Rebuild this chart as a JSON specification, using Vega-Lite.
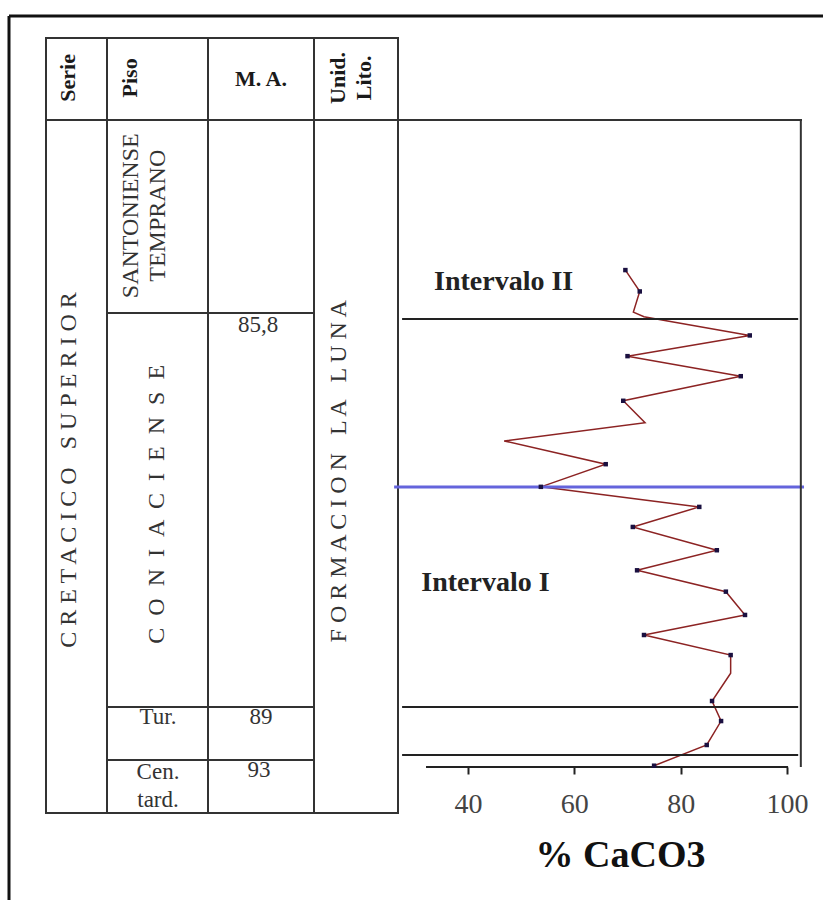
{
  "$schema": "https://vega.github.io/schema/vega-lite/v6.json",
  "padding": {"left": 7, "top": 14, "right": 0, "bottom": 0},
  "autosize": {"type": "pad"},
  "background": "white",
  "spacing": 0,
  "bounds": "flush",
  "config": {"view": {"stroke": null}, "font": "Liberation Serif"},
  "datasets": {
    "celdas": [
      {"columna": "Serie", "x0": 0, "x1": 61, "base": 100, "techo": 112.67},
      {"columna": "Piso", "x0": 61, "x1": 162, "base": 100, "techo": 112.67},
      {"columna": "M. A.", "x0": 162, "x1": 268, "base": 100, "techo": 112.67},
      {"columna": "Unid. Lito.", "x0": 268, "x1": 352, "base": 100, "techo": 112.67},
      {"columna": "Serie", "x0": 0, "x1": 61, "base": -7.11, "techo": 100},
      {"columna": "Piso", "x0": 61, "x1": 162, "base": 70.17, "techo": 100},
      {"columna": "Piso", "x0": 61, "x1": 162, "base": 9.27, "techo": 70.17},
      {"columna": "Piso", "x0": 61, "x1": 162, "base": 1.08, "techo": 9.27},
      {"columna": "Piso", "x0": 61, "x1": 162, "base": -7.11, "techo": 1.08},
      {"columna": "M. A.", "x0": 162, "x1": 268, "base": 70.17, "techo": 100},
      {"columna": "M. A.", "x0": 162, "x1": 268, "base": 9.27, "techo": 70.17},
      {"columna": "M. A.", "x0": 162, "x1": 268, "base": 1.08, "techo": 9.27},
      {"columna": "M. A.", "x0": 162, "x1": 268, "base": -7.11, "techo": 1.08},
      {"columna": "Unid. Lito.", "x0": 268, "x1": 352, "base": -7.11, "techo": 100}
    ],
    "rotulos_v": [
      {"texto": "Serie", "xc": 22, "nivel": 106.5, "clase": "encabezado"},
      {"texto": "Piso", "xc": 84, "nivel": 106.5, "clase": "encabezado"},
      {"texto": "Unid.|Lito.", "xc": 292, "nivel": 106.5, "clase": "encabezado"},
      {"texto": "C R E T A C I C O \u00a0 S U P E R I O R", "xc": 23, "nivel": 45.9, "clase": "cuerpo"},
      {"texto": "SANTONIENSE|TEMPRANO", "xc": 85, "nivel": 85.2, "clase": "cuerpo"},
      {"texto": "C \u00a0O \u00a0N \u00a0I \u00a0A \u00a0C \u00a0I \u00a0E \u00a0N \u00a0S \u00a0E", "xc": 111, "nivel": 40.6, "clase": "cuerpo"},
      {"texto": "F O R M A C I O N \u00a0 L A \u00a0 L U N A", "xc": 293, "nivel": 45.7, "clase": "cuerpo"}
    ],
    "rotulos_h": [
      {"texto": "M. A.", "xc": 215, "nivel": 106.3, "clase": "encabezado"},
      {"texto": "85,8", "xc": 212, "nivel": 68.3, "clase": "cuerpo"},
      {"texto": "Tur.", "xc": 112, "nivel": 7.7, "clase": "cuerpo"},
      {"texto": "89", "xc": 215, "nivel": 7.7, "clase": "cuerpo"},
      {"texto": "Cen.|tard.", "xc": 112, "nivel": -0.8, "clase": "cuerpo"},
      {"texto": "93", "xc": 213, "nivel": -0.5, "clase": "cuerpo"}
    ],
    "caco3": [
      {"nivel": 76.8, "caco3": 69.6, "muestra": true},
      {"nivel": 73.5, "caco3": 72.3, "muestra": true},
      {"nivel": 70.3, "caco3": 71.1, "muestra": false},
      {"nivel": 69.6, "caco3": 73.1, "muestra": false},
      {"nivel": 68.9, "caco3": 77.8, "muestra": false},
      {"nivel": 66.7, "caco3": 93.0, "muestra": true},
      {"nivel": 63.5, "caco3": 70.0, "muestra": true},
      {"nivel": 60.4, "caco3": 91.3, "muestra": true},
      {"nivel": 56.6, "caco3": 69.2, "muestra": true},
      {"nivel": 53.2, "caco3": 73.3, "muestra": false},
      {"nivel": 50.4, "caco3": 46.8, "muestra": false},
      {"nivel": 46.8, "caco3": 65.9, "muestra": true},
      {"nivel": 43.3, "caco3": 53.7, "muestra": true},
      {"nivel": 40.2, "caco3": 83.5, "muestra": true},
      {"nivel": 37.1, "caco3": 71.0, "muestra": true},
      {"nivel": 33.5, "caco3": 86.8, "muestra": true},
      {"nivel": 30.4, "caco3": 71.8, "muestra": true},
      {"nivel": 27.1, "caco3": 88.5, "muestra": true},
      {"nivel": 23.5, "caco3": 92.1, "muestra": true},
      {"nivel": 20.4, "caco3": 73.1, "muestra": true},
      {"nivel": 17.3, "caco3": 89.4, "muestra": true},
      {"nivel": 14.5, "caco3": 89.4, "muestra": false},
      {"nivel": 10.2, "caco3": 85.9, "muestra": true},
      {"nivel": 7.1, "caco3": 87.6, "muestra": true},
      {"nivel": 3.4, "caco3": 84.9, "muestra": true},
      {"nivel": 0.2, "caco3": 75.0, "muestra": true}
    ],
    "limites": [
      {"nivel": 69.24, "limite": "piso"},
      {"nivel": 43.28, "limite": "intervalo"},
      {"nivel": 9.27, "limite": "piso"},
      {"nivel": 1.85, "limite": "piso"}
    ],
    "intervalos": [
      {"texto": "Intervalo II", "caco3": 33.6, "nivel": 73.7},
      {"texto": "Intervalo I", "caco3": 31.2, "nivel": 27.2}
    ]
  },
  "hconcat": [
    {
      "width": 352,
      "height": 775,
      "layer": [
        {
          "data": {"name": "celdas"},
          "mark": {"type": "rect", "filled": false, "fill": "transparent", "stroke": "#333", "strokeWidth": 2},
          "encoding": {
            "x": {"field": "x0", "type": "quantitative", "scale": {"domain": [0, 352], "nice": false, "zero": false}, "axis": null},
            "x2": {"field": "x1"},
            "y": {"field": "base", "type": "quantitative", "scale": {"domain": [-7.11, 112.67], "nice": false, "zero": false}, "axis": null},
            "y2": {"field": "techo"}
          }
        },
        {
          "data": {"values": [{}]},
          "mark": {"type": "rule", "color": "#111", "strokeWidth": 3},
          "encoding": {
            "x": {"datum": -37, "type": "quantitative", "scale": {"domain": [0, 352], "nice": false, "zero": false}, "axis": null},
            "y": {"datum": 116.07, "type": "quantitative", "scale": {"domain": [-7.11, 112.67], "nice": false, "zero": false}, "axis": null},
            "y2": {"datum": -22}
          }
        },
        {
          "data": {"values": [{}]},
          "mark": {"type": "rule", "color": "#111", "strokeWidth": 3},
          "encoding": {
            "x": {"datum": -37, "type": "quantitative", "scale": {"domain": [0, 352], "nice": false, "zero": false}, "axis": null},
            "x2": {"datum": 778},
            "y": {"datum": 116.07, "type": "quantitative", "scale": {"domain": [-7.11, 112.67], "nice": false, "zero": false}, "axis": null}
          }
        },
        {
          "data": {"name": "rotulos_v"},
          "transform": [{"filter": "datum.clase === 'encabezado'"}],
          "mark": {"type": "text", "angle": 270, "align": "center", "baseline": "middle", "font": "Liberation Serif", "fontWeight": "bold", "fontSize": 22, "lineBreak": "|", "lineHeight": 26, "color": "#1a1a1a"},
          "encoding": {
            "x": {"field": "xc", "type": "quantitative", "scale": {"domain": [0, 352], "nice": false, "zero": false}, "axis": null},
            "y": {"field": "nivel", "type": "quantitative", "scale": {"domain": [-7.11, 112.67], "nice": false, "zero": false}, "axis": null},
            "text": {"field": "texto", "type": "nominal"}
          }
        },
        {
          "data": {"name": "rotulos_v"},
          "transform": [{"filter": "datum.clase === 'cuerpo'"}],
          "mark": {"type": "text", "angle": 270, "align": "center", "baseline": "middle", "font": "Liberation Serif", "fontSize": 24, "lineBreak": "|", "lineHeight": 27, "color": "#333"},
          "encoding": {
            "x": {"field": "xc", "type": "quantitative", "scale": {"domain": [0, 352], "nice": false, "zero": false}, "axis": null},
            "y": {"field": "nivel", "type": "quantitative", "scale": {"domain": [-7.11, 112.67], "nice": false, "zero": false}, "axis": null},
            "text": {"field": "texto", "type": "nominal"}
          }
        },
        {
          "data": {"name": "rotulos_h"},
          "transform": [{"filter": "datum.clase === 'encabezado'"}],
          "mark": {"type": "text", "align": "center", "baseline": "middle", "font": "Liberation Serif", "fontWeight": "bold", "fontSize": 22, "color": "#1a1a1a"},
          "encoding": {
            "x": {"field": "xc", "type": "quantitative", "scale": {"domain": [0, 352], "nice": false, "zero": false}, "axis": null},
            "y": {"field": "nivel", "type": "quantitative", "scale": {"domain": [-7.11, 112.67], "nice": false, "zero": false}, "axis": null},
            "text": {"field": "texto", "type": "nominal"}
          }
        },
        {
          "data": {"name": "rotulos_h"},
          "transform": [{"filter": "datum.clase === 'cuerpo'"}],
          "mark": {"type": "text", "align": "center", "baseline": "middle", "font": "Liberation Serif", "fontSize": 23, "lineBreak": "|", "lineHeight": 28, "color": "#333"},
          "encoding": {
            "x": {"field": "xc", "type": "quantitative", "scale": {"domain": [0, 352], "nice": false, "zero": false}, "axis": null},
            "y": {"field": "nivel", "type": "quantitative", "scale": {"domain": [-7.11, 112.67], "nice": false, "zero": false}, "axis": null},
            "text": {"field": "texto", "type": "nominal"}
          }
        }
      ]
    },
    {
      "width": 404,
      "height": 775,
      "layer": [
        {
          "data": {"name": "caco3"},
          "mark": {"type": "line", "color": "#8c2323", "strokeWidth": 1.5},
          "encoding": {
            "x": {
              "field": "caco3", "type": "quantitative", "title": "% CaCO3",
              "scale": {"domain": [26.83, 102.82], "nice": false, "zero": false},
              "axis": {
                "domain": false, "grid": false, "values": [40, 60, 80, 100],
                "tickSize": 7, "tickWidth": 2, "tickColor": "#222",
                "labelFont": "Liberation Serif", "labelFontSize": 28, "labelColor": "#444", "labelPadding": 16,
                "offset": -46,
                "titleFont": "Liberation Serif", "titleFontSize": 38, "titleFontWeight": "bold", "titleColor": "#111", "titlePadding": 18,
                "titleX": 222
              }
            },
            "y": {"field": "nivel", "type": "quantitative", "scale": {"domain": [-7.11, 112.67], "nice": false, "zero": false}, "axis": null},
            "order": {"field": "nivel", "sort": "descending"}
          }
        },
        {
          "data": {"name": "limites"},
          "transform": [{"filter": "datum.limite === 'piso'"}],
          "mark": {"type": "rule", "color": "#222", "strokeWidth": 2},
          "encoding": {
            "x": {"datum": 27.6, "type": "quantitative", "title": "% CaCO3"},
            "x2": {"datum": 102.1},
            "y": {"field": "nivel", "type": "quantitative", "scale": {"domain": [-7.11, 112.67], "nice": false, "zero": false}, "axis": null}
          }
        },
        {
          "data": {"name": "limites"},
          "transform": [{"filter": "datum.limite === 'intervalo'"}],
          "mark": {"type": "rule", "color": "#6464dc", "strokeWidth": 3},
          "encoding": {
            "x": {"datum": 26.1, "type": "quantitative", "title": "% CaCO3"},
            "x2": {"datum": 103.2},
            "y": {"field": "nivel", "type": "quantitative", "scale": {"domain": [-7.11, 112.67], "nice": false, "zero": false}, "axis": null}
          }
        },
        {
          "data": {"values": [{}]},
          "mark": {"type": "rule", "color": "#333", "strokeWidth": 2},
          "encoding": {
            "x": {"datum": 26.83, "type": "quantitative", "title": "% CaCO3"},
            "x2": {"datum": 102.82},
            "y": {"datum": 100, "type": "quantitative", "scale": {"domain": [-7.11, 112.67], "nice": false, "zero": false}, "axis": null}
          }
        },
        {
          "data": {"values": [{}]},
          "mark": {"type": "rule", "color": "#333", "strokeWidth": 2},
          "encoding": {
            "x": {"datum": 102.6, "type": "quantitative", "title": "% CaCO3"},
            "y": {"datum": 100, "type": "quantitative", "scale": {"domain": [-7.11, 112.67], "nice": false, "zero": false}, "axis": null},
            "y2": {"datum": 0}
          }
        },
        {
          "data": {"values": [{}]},
          "mark": {"type": "rule", "color": "#222", "strokeWidth": 2},
          "encoding": {
            "x": {"datum": 32.1, "type": "quantitative", "title": "% CaCO3"},
            "x2": {"datum": 100.2},
            "y": {"datum": 0, "type": "quantitative", "scale": {"domain": [-7.11, 112.67], "nice": false, "zero": false}, "axis": null}
          }
        },
        {
          "data": {"name": "caco3"},
          "transform": [{"filter": "datum.muestra"}],
          "mark": {"type": "point", "shape": "square", "filled": true, "size": 20, "color": "#1a1040", "opacity": 1},
          "encoding": {
            "x": {"field": "caco3", "type": "quantitative", "title": "% CaCO3"},
            "y": {"field": "nivel", "type": "quantitative", "scale": {"domain": [-7.11, 112.67], "nice": false, "zero": false}, "axis": null}
          }
        },
        {
          "data": {"name": "intervalos"},
          "mark": {"type": "text", "align": "left", "baseline": "alphabetic", "font": "Liberation Serif", "fontWeight": "bold", "fontSize": 28, "color": "#222"},
          "encoding": {
            "x": {"field": "caco3", "type": "quantitative", "title": "% CaCO3"},
            "y": {"field": "nivel", "type": "quantitative", "scale": {"domain": [-7.11, 112.67], "nice": false, "zero": false}, "axis": null},
            "text": {"field": "texto", "type": "nominal"}
          }
        }
      ]
    }
  ]
}
